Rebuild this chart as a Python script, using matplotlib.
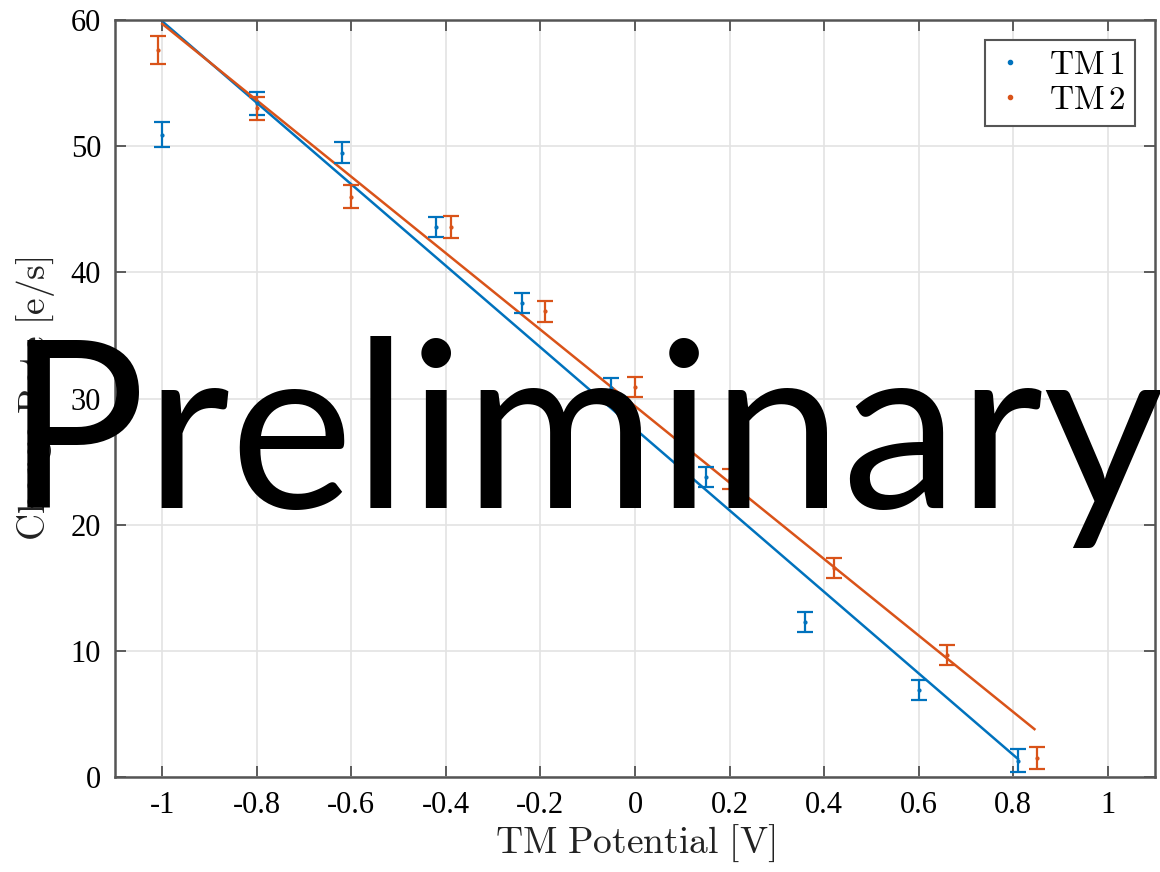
import numpy as np
import matplotlib.pyplot as plt
from matplotlib.lines import Line2D

# Charge rate vs test mass potential, two test masses
tm1_v = [-1.0, -0.80, -0.62, -0.42, -0.24, -0.05, 0.15, 0.36, 0.60, 0.81]
tm1_rate = [50.9, 53.4, 49.5, 43.6, 37.6, 30.8, 23.8, 12.3, 6.9, 1.3]
tm1_err = [1.0, 0.9, 0.8, 0.8, 0.8, 0.8, 0.8, 0.8, 0.8, 0.9]

tm2_v = [-1.01, -0.80, -0.60, -0.39, -0.19, 0.0, 0.20, 0.42, 0.66, 0.85]
tm2_rate = [57.6, 53.0, 46.0, 43.6, 36.9, 30.9, 23.6, 16.6, 9.7, 1.5]
tm2_err = [1.1, 0.9, 0.9, 0.9, 0.8, 0.8, 0.8, 0.8, 0.8, 0.9]

# linear fits: slope, intercept, x range
tm1_fit = (-32.3, 27.6)
tm2_fit = (-30.3, 29.4)
tm1_range = (-1.0, 0.81)
tm2_range = (-1.0, 0.845)

xticks = [-1, -0.8, -0.6, -0.4, -0.2, 0, 0.2, 0.4, 0.6, 0.8, 1]
xticklabels = ["-1", "-0.8", "-0.6", "-0.4", "-0.2", "0", "0.2", "0.4", "0.6", "0.8", "1"]
yticks = [0, 10, 20, 30, 40, 50, 60]

blue = "#0072BD"
orange = "#D95319"

plt.rcParams["font.family"] = ["Liberation Serif", "DejaVu Serif"]
plt.rcParams["mathtext.fontset"] = "cm"

fig = plt.figure(figsize=(11.6, 8.72), dpi=100)
ax = fig.add_axes([0.0991, 0.1089, 0.8966, 0.8681])

ax.errorbar(tm1_v, tm1_rate, yerr=tm1_err, fmt=".", color=blue, ms=4,
            elinewidth=1.6, capsize=6, capthick=1.6, zorder=3)
ax.errorbar(tm2_v, tm2_rate, yerr=tm2_err, fmt=".", color=orange, ms=4,
            elinewidth=1.6, capsize=6, capthick=1.6, zorder=3)

xf1 = np.linspace(tm1_range[0], tm1_range[1], 50)
xf2 = np.linspace(tm2_range[0], tm2_range[1], 50)
ax.plot(xf1, tm1_fit[0] * xf1 + tm1_fit[1], color=blue, lw=1.8, zorder=2)
ax.plot(xf2, tm2_fit[0] * xf2 + tm2_fit[1], color=orange, lw=1.8, zorder=2)

ax.set_xlim(-1.1, 1.1)
ax.set_ylim(0, 60)
ax.set_xticks(xticks)
ax.set_xticklabels(xticklabels)
ax.set_yticks(yticks)
ax.tick_params(direction="in", top=True, right=True, labelsize=22,
               length=8, width=1.2, color="#444444", pad=10)
ax.grid(True, color="#e3e3e3", lw=1.2)
ax.set_axisbelow(True)
for s in ax.spines.values():
    s.set_color("#555555")
    s.set_linewidth(1.8)

ax.set_xlabel(r"$\mathrm{TM\ Potential\ [V]}$", fontsize=27, color="#222222", labelpad=2)
ax.set_ylabel(r"$\mathrm{Charge\ Rate\ [e/s]}$", fontsize=27, color="#222222", labelpad=10)

handles = [Line2D([], [], marker=".", ls="none", color=blue, ms=6),
           Line2D([], [], marker=".", ls="none", color=orange, ms=6)]
leg = ax.legend(handles, [r"$\mathrm{TM\,1}$", r"$\mathrm{TM\,2}$"],
                loc="upper right", fontsize=24, handlelength=0.9,
                fancybox=False, framealpha=1, edgecolor="#555555",
                borderpad=0.3, handletextpad=0.7, labelspacing=0.15,
                borderaxespad=0.6)
leg.get_frame().set_linewidth(1.5)

# watermark
fig.text(0.005, 0.418, "Preliminary", fontsize=168, family="Lato",
         color="black", zorder=10)

fig.savefig("out.png", dpi=100)
